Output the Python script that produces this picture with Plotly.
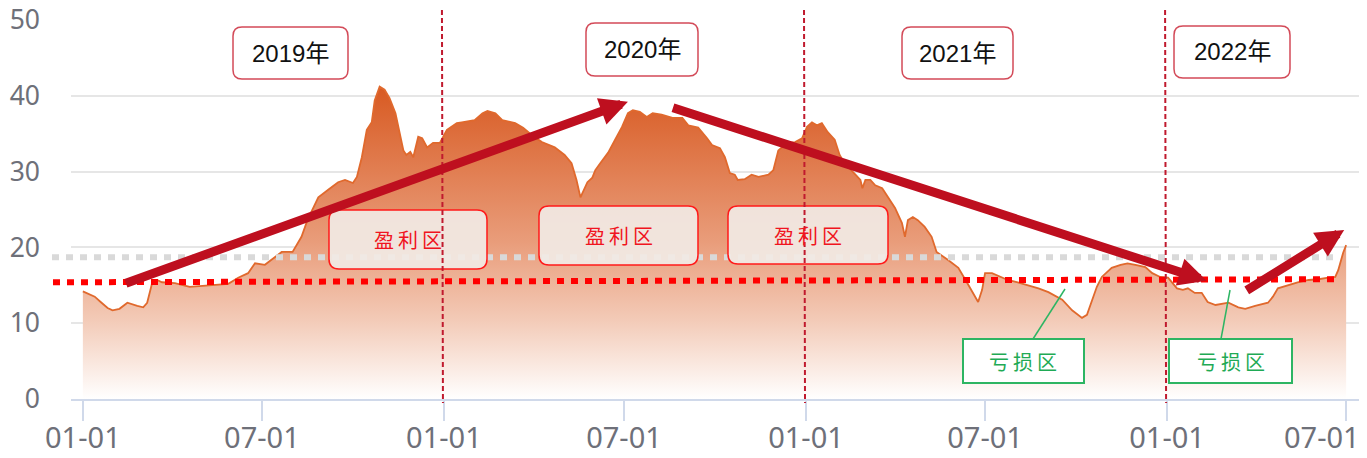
import plotly.graph_objects as go
import pandas as pd

# ---------------- data ----------------
dates = [
    "2019-01-01", "2019-01-06", "2019-01-13", "2019-01-19", "2019-01-26", "2019-01-31",
    "2019-02-07", "2019-02-15", "2019-02-21", "2019-02-25", "2019-03-03", "2019-03-07",
    "2019-03-12", "2019-03-17", "2019-03-22", "2019-04-04", "2019-04-19", "2019-05-07",
    "2019-05-28", "2019-06-07", "2019-06-17", "2019-06-24", "2019-07-04", "2019-07-14",
    "2019-07-21", "2019-08-01", "2019-08-10", "2019-08-16", "2019-08-27", "2019-09-06",
    "2019-09-16", "2019-09-23", "2019-10-01", "2019-10-05", "2019-10-10", "2019-10-15",
    "2019-10-20", "2019-10-23", "2019-10-28", "2019-11-02", "2019-11-07", "2019-11-13",
    "2019-11-18", "2019-11-21", "2019-11-24", "2019-11-28", "2019-12-01", "2019-12-06",
    "2019-12-10", "2019-12-15", "2019-12-21", "2019-12-28", "2020-01-04", "2020-01-14",
    "2020-01-19", "2020-02-01", "2020-02-09", "2020-02-14", "2020-02-22", "2020-02-29",
    "2020-03-13", "2020-03-21", "2020-03-30", "2020-04-09", "2020-04-22", "2020-05-02",
    "2020-05-09", "2020-05-14", "2020-05-18", "2020-05-25", "2020-05-30", "2020-06-02",
    "2020-06-07", "2020-06-15", "2020-06-22", "2020-06-29", "2020-07-05", "2020-07-10",
    "2020-07-17", "2020-07-24", "2020-07-30", "2020-08-08", "2020-08-19", "2020-08-29",
    "2020-09-04", "2020-09-14", "2020-09-23", "2020-09-28", "2020-10-06", "2020-10-11",
    "2020-10-16", "2020-10-21", "2020-10-24", "2020-10-31", "2020-11-07", "2020-11-14",
    "2020-11-24", "2020-11-29", "2020-12-04", "2020-12-13", "2020-12-21", "2020-12-28",
    "2021-01-02", "2021-01-07", "2021-01-12", "2021-01-17", "2021-01-23", "2021-01-30",
    "2021-02-04", "2021-02-09", "2021-02-20", "2021-02-25", "2021-02-27", "2021-03-02",
    "2021-03-07", "2021-03-12", "2021-03-19", "2021-03-25", "2021-04-01", "2021-04-08",
    "2021-04-11", "2021-04-14", "2021-04-19", "2021-04-24", "2021-05-01", "2021-05-08",
    "2021-05-13", "2021-05-25", "2021-06-04", "2021-06-13", "2021-06-19", "2021-06-24",
    "2021-06-28", "2021-07-01", "2021-07-08", "2021-07-18", "2021-07-24", "2021-08-03",
    "2021-08-14", "2021-08-24", "2021-09-03", "2021-09-17", "2021-09-27", "2021-10-07",
    "2021-10-12", "2021-10-17", "2021-10-22", "2021-10-27", "2021-11-06", "2021-11-15",
    "2021-11-22", "2021-11-30", "2021-12-10", "2021-12-17", "2021-12-25", "2022-01-02",
    "2022-01-11", "2022-01-17", "2022-01-22", "2022-01-29", "2022-02-05", "2022-02-11",
    "2022-02-19", "2022-03-04", "2022-03-14", "2022-03-21", "2022-03-31", "2022-04-13",
    "2022-04-18", "2022-04-23", "2022-05-03", "2022-05-13", "2022-05-24", "2022-06-03",
    "2022-06-13", "2022-06-20", "2022-06-23", "2022-06-28", "2022-07-01",
]
values = [
    14.2, 13.9, 13.5, 12.8, 12.0, 11.7,
    11.9, 12.7, 12.4, 12.3, 12.1, 12.7,
    15.3, 15.7, 15.4, 15.3, 14.8, 15.0,
    15.2, 16.0, 16.6, 17.9, 17.7, 18.7,
    19.4, 19.4, 21.4, 23.6, 26.6, 27.6,
    28.6, 28.9, 28.5, 29.3, 31.9, 35.5,
    36.5, 39.4, 41.2, 40.8, 39.7, 37.7,
    34.6, 32.8, 32.2, 32.6, 31.9, 34.6,
    34.4, 33.2, 33.8, 33.8, 35.5, 36.4,
    36.5, 36.8, 37.7, 38.0, 37.7, 36.8,
    36.4, 35.8, 34.8, 33.9, 33.2, 32.2,
    31.1, 28.9, 26.6, 28.6, 29.2, 30.2,
    31.1, 32.5, 34.2, 35.9, 37.7, 38.1,
    37.9, 37.2, 37.7, 37.5, 37.1, 37.1,
    36.1, 35.8, 34.4, 33.5, 33.1, 31.9,
    29.8, 29.6, 28.9, 29.0, 29.6, 29.3,
    29.6, 30.2, 32.8, 33.8, 33.9, 34.4,
    35.9, 36.5, 36.1, 36.4, 35.2, 34.2,
    32.2, 31.1, 29.6, 28.9, 27.8, 28.9,
    28.9, 28.2, 27.8, 26.6, 25.2, 23.2,
    21.4, 23.6, 24.0, 23.6, 22.7, 21.4,
    19.4, 18.3, 17.3, 15.3, 14.0, 12.8,
    14.4, 16.6, 16.6, 16.1, 15.7, 15.4,
    15.0, 14.6, 14.1, 13.1, 11.7, 10.7,
    11.1, 13.1, 14.8, 16.1, 17.3, 17.7,
    17.9, 17.7, 17.4, 16.6, 16.1, 16.0,
    14.6, 14.4, 14.6, 14.0, 14.0, 12.8,
    12.4, 12.7, 12.1, 11.9, 12.3, 12.7,
    13.5, 14.6, 15.0, 15.4, 15.7, 15.8,
    16.0, 16.1, 17.0, 19.3, 20.3,
]

tick_dates = ["2019-01-01", "2019-07-01", "2020-01-01", "2020-07-01",
              "2021-01-01", "2021-07-01", "2022-01-01", "2022-07-01"]
tick_labels = ["01-01", "07-01", "01-01", "07-01", "01-01", "07-01", "01-01", "07-01"]
y_ticks = [0, 10, 20, 30, 40, 50]

year_labels = ["2019年", "2020年", "2021年", "2022年"]
year_boundaries = ["2020-01-01", "2021-01-01", "2022-01-01"]
profit_label = "盈\u2009利\u2009区"
loss_label = "亏\u2009损\u2009区"
cost_line = (15.4, 15.8)     # red dotted line, left/right value
ref_line = 18.7              # grey dotted line value

# trend arrows: (tail date, tail value, tip date, tip value)
arrows = [
    ("2019-02-12", 15.2, "2020-07-05", 39.2),
    ("2020-08-18", 38.5, "2022-02-10", 15.6),
    ("2022-03-21", 14.2, "2022-06-29", 22.3),
]

# ---------------- layout geometry ----------------
W, H = 1367, 458
ML, MR, MT, MB = 71, 8, 20, 59
PW, PH = W - ML - MR, H - MT - MB
X_START, X_END = pd.Timestamp("2018-12-20"), pd.Timestamp("2022-07-14")
Y_MAX = 50


def px(x):
    return (x - ML) / PW


def py(y):
    return (MT + PH - y) / PH


def dx(d):
    return (pd.Timestamp(d) - X_START) / (X_END - X_START)


def vy(v):
    return v / Y_MAX


def rrect(l, t, r, b, rad):
    pts = [
        ("M", l + rad, t), ("L", r - rad, t), ("Q", r, t, r, t + rad),
        ("L", r, b - rad), ("Q", r, b, r - rad, b), ("L", l + rad, b),
        ("Q", l, b, l, b - rad), ("L", l, t + rad), ("Q", l, t, l + rad, t),
    ]
    s = ""
    for p in pts:
        cmd = p[0]
        coords = p[1:]
        parts = []
        for i in range(0, len(coords), 2):
            parts.append(f"{px(coords[i]):.5f},{py(coords[i + 1]):.5f}")
        s += cmd + " ".join(parts) + " "
    return s + "Z"


fig = go.Figure()
fig.add_trace(go.Scatter(
    x=dates, y=values, mode="lines",
    line=dict(color="#E0692D", width=1.8),
    fill="tozeroy",
    fillgradient=dict(type="vertical", start=0, stop=max(values),
                      colorscale=[[0, "#FFFFFF"], [0.25, "#F3CBB8"], [0.5, "#E99D7B"],
                                  [1, "#D85A22"]]),
    hoverinfo="skip",
))

shapes = []
# dotted reference lines
shapes.append(dict(type="line", xref="paper", yref="paper",
                   x0=px(52), x1=px(1335), y0=vy(ref_line), y1=vy(ref_line),
                   line=dict(color="#D9D9D9", width=6, dash="7px,7px"), layer="above"))
shapes.append(dict(type="line", xref="paper", yref="paper",
                   x0=px(53), x1=px(1338), y0=vy(cost_line[0]), y1=vy(cost_line[1]),
                   line=dict(color="#FF0000", width=6, dash="7px,7px"), layer="above"))

# profit boxes
profit_boxes = [(329, 210, 487, 269), (539, 206, 698, 265), (728, 206, 888, 264)]
for (l, t, r, b) in profit_boxes:
    shapes.append(dict(type="path", xref="paper", yref="paper", path=rrect(l, t, r, b, 10),
                       fillcolor="rgba(241,234,228,0.93)", line=dict(color="#FF1A1A", width=1.5),
                       layer="above"))
# loss boxes and connectors
loss_boxes = [(963, 339, 1084, 383), (1169, 339, 1292, 383)]
for (l, t, r, b) in loss_boxes:
    shapes.append(dict(type="rect", xref="paper", yref="paper",
                       x0=px(l), x1=px(r), y0=py(b), y1=py(t),
                       fillcolor="white", line=dict(color="#2DB563", width=2), layer="above"))
connectors = [(1033, 339, 1065, 289), (1221, 339, 1230, 290)]
for (a, b, c, d) in connectors:
    shapes.append(dict(type="line", xref="paper", yref="paper",
                       x0=px(a), y0=py(b), x1=px(c), y1=py(d),
                       line=dict(color="#2DB563", width=1.5), layer="above"))
# year boxes
year_boxes = [(233, 27, 348, 79), (586, 23, 698, 76), (902, 27, 1013, 79), (1174, 26, 1290, 78)]
for (l, t, r, b) in year_boxes:
    shapes.append(dict(type="path", xref="paper", yref="paper", path=rrect(l, t, r, b, 9),
                       fillcolor="white", line=dict(color="#D34A58", width=1.5), layer="above"))
# year boundary dashed lines
for d in year_boundaries:
    shapes.append(dict(type="line", xref="paper", yref="paper",
                       x0=dx(d) - 2 / PW, x1=dx(d) - 1 / PW, y0=py(10), y1=py(403),
                       line=dict(color="#C01A2E", width=2, dash="5px,3px"), layer="above"))

annotations = []
for (l, t, r, b), txt in zip(year_boxes, year_labels):
    annotations.append(dict(xref="paper", yref="paper", x=px((l + r) / 2), y=py((t + b) / 2),
                            text=txt, showarrow=False, xanchor="center", yanchor="middle",
                            font=dict(family="Liberation Sans, Noto Sans CJK SC", size=24, color="#111111")))
for (l, t, r, b) in profit_boxes:
    annotations.append(dict(xref="paper", yref="paper", x=px((l + r) / 2), y=py((t + b) / 2),
                            text=profit_label, showarrow=False, xanchor="center", yanchor="middle",
                            font=dict(family="Noto Sans CJK SC", size=20, color="#F01420")))
for (l, t, r, b) in loss_boxes:
    annotations.append(dict(xref="paper", yref="paper", x=px((l + r) / 2), y=py((t + b) / 2),
                            text=loss_label, showarrow=False, xanchor="center", yanchor="middle",
                            font=dict(family="Noto Sans CJK SC", size=20, color="#1FAA55")))
for (td, tv, hd, hv) in arrows:
    annotations.append(dict(xref="x", yref="y", axref="x", ayref="y",
                            x=hd, y=hv, ax=td, ay=tv, text="", showarrow=True,
                            arrowhead=2, arrowsize=0.62, arrowwidth=9, arrowcolor="#BE0F1F",
                            standoff=0, startstandoff=0))

# the last tick label is kept inside the chart edge (as in the original)
axis_ticktext = tick_labels[:-1] + [""]
annotations.append(dict(xref="paper", yref="paper", x=px(1362), y=py(436),
                        text=tick_labels[-1], showarrow=False, xanchor="right", yanchor="middle",
                        font=dict(size=29, color="#6E7079", family="Noto Sans")))

fig.update_layout(
    width=W, height=H, autosize=False,
    margin=dict(l=ML, r=MR, t=MT, b=MB, pad=0, autoexpand=False),
    paper_bgcolor="white", plot_bgcolor="white",
    showlegend=False,
    shapes=shapes, annotations=annotations,
    font=dict(family="Noto Sans, Noto Sans CJK SC"),
)
fig.update_xaxes(
    type="date", range=[X_START, X_END], automargin=False,
    tickvals=tick_dates, ticktext=axis_ticktext,
    ticks="outside", ticklen=20, tickwidth=2, tickcolor="#D0D9EA",
    showline=True, linecolor="#D0D9EA", linewidth=2,
    showgrid=False, zeroline=False,
    ticklabelstandoff=-8,
    tickfont=dict(size=29, color="#6E7079", family="Noto Sans"),
)
fig.update_yaxes(
    range=[0, Y_MAX], tickvals=y_ticks, automargin=False,
    showgrid=True, gridcolor="#E6E6E6", gridwidth=2,
    showline=False, zeroline=False, ticks="",
    ticklabelstandoff=30,
    tickfont=dict(size=26.5, color="#6E7079", family="Noto Sans"),
)

fig.write_html("out.html", config={"displayModeBar": False},
               post_script="document.body.style.margin='0';")
